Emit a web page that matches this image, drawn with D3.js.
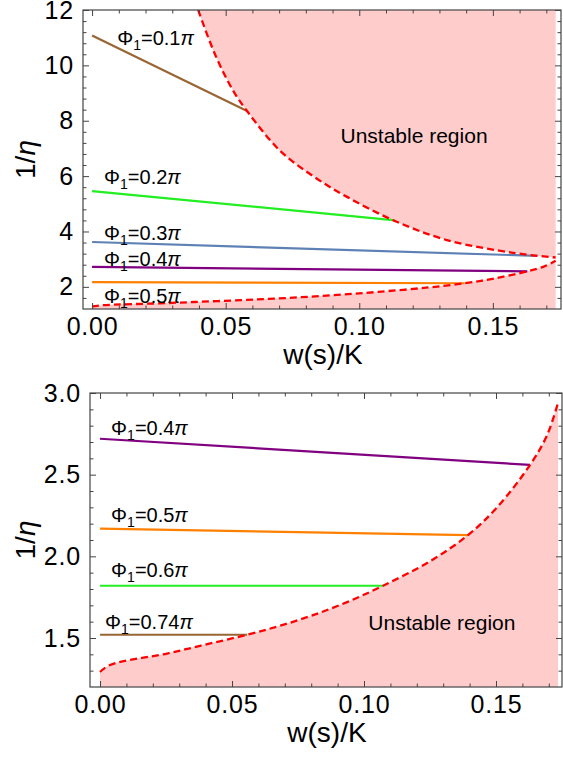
<!DOCTYPE html>
<html>
<head>
<meta charset="utf-8">
<script src="https://cdn.jsdelivr.net/npm/d3@7"></script>
<style>
  body { margin: 0; background: #fff; }
  text { font-family: "Liberation Sans", Arial, Helvetica, sans-serif; fill: #000; }
</style>
</head>
<body>
<div id="chart"></div>
<script>
// stability boundaries (w(s)/K , 1/eta)
var upperX   = [0.0397, 0.046, 0.0527, 0.058, 0.0703, 0.0827, 0.0954, 0.1126, 0.1328, 0.1575, 0.1735];
var upperEta = [12.0,   10.4,  9.10,   8.35,  6.92,   6.0,    5.25,   4.41,   3.69,   3.23,   3.06];
var lowerX   = [0, 0.0038, 0.0254, 0.0379, 0.0557, 0.0682, 0.0807, 0.0936, 0.1072, 0.125, 0.1394, 0.1504, 0.1629, 0.1693, 0.1735];
var lowerEta = [1.292, 1.335, 1.405, 1.452, 1.52, 1.575, 1.64, 1.72, 1.82, 1.97, 2.13, 2.30, 2.56, 2.74, 2.94];

// top panel: one straight line per Phi_1
var topPhi      = ["0.1", "0.2", "0.3", "0.4", "0.5"];
var topStartEta = [11.08, 5.46, 3.62, 2.72, 2.17];
var topEndX     = [0.058, 0.1126, 0.1665, 0.1629, 0.1394];
var topEndEta   = [8.35, 4.41, 3.12, 2.56, 2.13];

// bottom panel
var botPhi      = ["0.4", "0.5", "0.6", "0.74"];
var botStartEta = [2.72, 2.17, 1.82, 1.52];
var botEndX     = [0.1629, 0.1394, 0.1072, 0.0557];
var botEndEta   = [2.56, 2.13, 1.82, 1.52];

// ticks
var xMajor    = [0, 0.05, 0.10, 0.15];
var xMinor    = [0.01, 0.02, 0.03, 0.04, 0.06, 0.07, 0.08, 0.09, 0.11, 0.12, 0.13, 0.14, 0.16, 0.17];
var topYMajor = [2, 4, 6, 8, 10, 12];
var botYMajor = [1.5, 2.0, 2.5, 3.0];

var W = 563, H = 761;
var svg = d3.select("#chart").append("svg").attr("width", W).attr("height", H)
  .style("overflow", "visible");

var pink = "#ffcccc";
var lineColors = {"0.1": "#996633", "0.2": "#22ee22", "0.3": "#5e81b5", "0.4": "#800080",
                  "0.5": "#ff8000", "0.6": "#22ee22", "0.74": "#996633"};

function drawPanel(p, id) {
  var x = d3.scaleLinear().domain(p.xDomain).range([p.left, p.right]);
  var y = d3.scaleLinear().domain(p.yDomain).range([p.bottom, p.top]);
  var g = svg.append("g");

  g.append("clipPath").attr("id", "clip" + id)
    .append("rect").attr("x", p.left).attr("y", p.top)
    .attr("width", p.right - p.left).attr("height", p.bottom - p.top);
  var plot = g.append("g").attr("clip-path", "url(#clip" + id + ")");

  var up = upperX.map(function(v, i) { return [v, upperEta[i]]; });
  var lo = lowerX.map(function(v, i) { return [v, lowerEta[i]]; });
  var smooth = d3.curveCatmullRom.alpha(0.5);

  // unstable region fills
  plot.append("path").datum(up)
    .attr("fill", pink)
    .attr("d", d3.area().curve(smooth)
      .x(function(d) { return x(d[0]); })
      .y0(y(p.yDomain[1]) - 2)
      .y1(function(d) { return y(d[1]); }));
  plot.append("path").datum(lo)
    .attr("fill", pink)
    .attr("d", d3.area().curve(smooth)
      .x(function(d) { return x(d[0]); })
      .y0(y(p.yDomain[0]) + 2)
      .y1(function(d) { return y(d[1]); }));

  // phi lines
  p.phi.forEach(function(ph, i) {
    plot.append("line")
      .attr("x1", x(0)).attr("y1", y(p.startEta[i]))
      .attr("x2", x(p.endX[i])).attr("y2", y(p.endEta[i]))
      .attr("stroke", lineColors[ph]).attr("stroke-width", 2.2);
  });

  // boundaries (dashed)
  var ln = d3.line().curve(smooth)
    .x(function(d) { return x(d[0]); }).y(function(d) { return y(d[1]); });
  [up, lo].forEach(function(c) {
    plot.append("path").datum(c).attr("d", ln)
      .attr("fill", "none").attr("stroke", "#ff0000")
      .attr("stroke-width", 2.3).attr("stroke-dasharray", "7,4");
  });

  // labels for the lines
  p.phi.forEach(function(ph, i) {
    var t = g.append("text")
      .attr("x", x(p.labelX[i])).attr("y", y(p.labelEta[i]))
      .attr("font-size", 20);
    t.append("tspan").text("\u03A6");
    t.append("tspan").attr("font-size", 14).attr("dy", 5).text("1");
    t.append("tspan").attr("dy", -5).text("=" + ph);
    t.append("tspan").attr("font-style", "italic").text("\u03C0");
  });

  g.append("text")
    .attr("x", x(p.regionX)).attr("y", y(p.regionEta))
    .attr("text-anchor", "middle").attr("font-size", 21)
    .text("Unstable region");

  // frame ticks (all pointing inward)
  var yMinor = [];
  for (var v = p.yMinorStart; v < p.yDomain[1] - 1e-9; v += p.yMinorStep) {
    var r = Math.round(v * 100) / 100;
    if (p.yMajor.indexOf(r) < 0) yMinor.push(r);
  }
  function tickStyle(sel) {
    sel.select(".domain").remove();
    sel.selectAll("line").attr("stroke", "#444");
    sel.selectAll("text").attr("font-size", 25).attr("letter-spacing", 0.8)
      .attr("font-family", "Liberation Sans, Arial, sans-serif").attr("fill", "#000");
  }
  g.append("g").attr("transform", "translate(0," + p.bottom + ")")
    .call(d3.axisBottom(x).tickValues(xMajor).tickSize(-6).tickPadding(8)
      .tickFormat(d3.format(".2f"))).call(tickStyle);
  g.append("g").attr("transform", "translate(0," + p.bottom + ")")
    .call(d3.axisBottom(x).tickValues(xMinor).tickSize(-3.5).tickFormat("")).call(tickStyle);
  g.append("g").attr("transform", "translate(0," + p.top + ")")
    .call(d3.axisTop(x).tickValues(xMajor).tickSize(-6).tickFormat("")).call(tickStyle);
  g.append("g").attr("transform", "translate(0," + p.top + ")")
    .call(d3.axisTop(x).tickValues(xMinor).tickSize(-3.5).tickFormat("")).call(tickStyle);
  g.append("g").attr("transform", "translate(" + p.left + ",0)")
    .call(d3.axisLeft(y).tickValues(p.yMajor).tickSize(-6).tickPadding(9)
      .tickFormat(d3.format(p.yFormat))).call(tickStyle);
  g.append("g").attr("transform", "translate(" + p.left + ",0)")
    .call(d3.axisLeft(y).tickValues(yMinor).tickSize(-3.5).tickFormat("")).call(tickStyle);
  g.append("g").attr("transform", "translate(" + p.right + ",0)")
    .call(d3.axisRight(y).tickValues(p.yMajor).tickSize(-6).tickFormat("")).call(tickStyle);
  g.append("g").attr("transform", "translate(" + p.right + ",0)")
    .call(d3.axisRight(y).tickValues(yMinor).tickSize(-3.5).tickFormat("")).call(tickStyle);

  g.append("rect")
    .attr("x", p.left).attr("y", p.top)
    .attr("width", p.right - p.left).attr("height", p.bottom - p.top)
    .attr("fill", "none").attr("stroke", "#444").attr("stroke-width", 1.2);

  // axis titles
  g.append("text")
    .attr("x", (p.left + p.right) / 2 + 1).attr("y", p.bottom + 55)
    .attr("text-anchor", "middle").attr("font-size", 28)
    .text("w(s)/K");
  var yt = g.append("text")
    .attr("transform", "translate(35," + (p.top + p.bottom) / 2 + ") rotate(-90)")
    .attr("text-anchor", "middle").attr("font-size", 28);
  yt.append("tspan").text("1/");
  yt.append("tspan").attr("font-style", "italic").text("\u03B7");
}

drawPanel({
  left: 83, right: 561, top: 10, bottom: 309,
  xDomain: [-0.0034, 0.1755], yDomain: [1.2, 12],
  yMajor: topYMajor, yMinorStart: 1.6, yMinorStep: 0.4, yFormat: "d",
  phi: topPhi, startEta: topStartEta, endX: topEndX, endEta: topEndEta,
  labelX: [0.0094, 0.0045, 0.0045, 0.0045, 0.0045],
  labelEta: [10.72, 5.71, 3.69, 2.76, 1.42],
  regionX: 0.1205, regionEta: 7.19
}, 1);

drawPanel({
  left: 90, right: 562, top: 393, bottom: 687,
  xDomain: [-0.0038, 0.175], yDomain: [1.2, 3.0],
  yMajor: botYMajor, yMinorStart: 1.3, yMinorStep: 0.1, yFormat: ".1f",
  phi: botPhi, startEta: botStartEta, endX: botEndX, endEta: botEndEta,
  labelX: [0.0042, 0.0042, 0.0042, 0.0019],
  labelEta: [2.743, 2.211, 1.875, 1.555],
  regionX: 0.1295, regionEta: 1.55
}, 2);
</script>
</body>
</html>
